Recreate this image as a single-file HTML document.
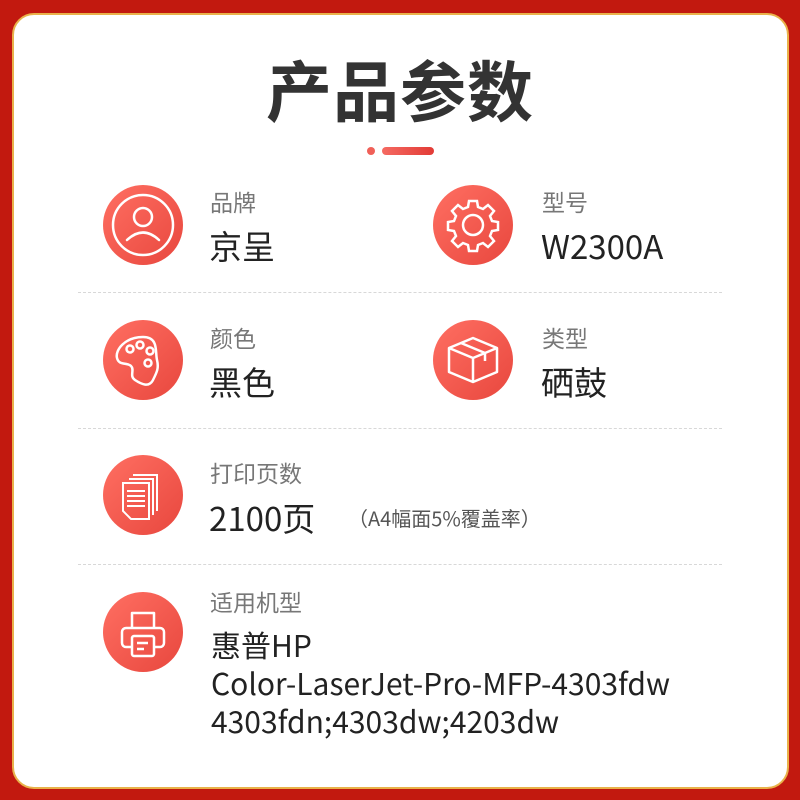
<!DOCTYPE html>
<html><head><meta charset="utf-8"><style>
*{margin:0;padding:0;box-sizing:border-box}
body{width:800px;height:800px;background:#c2190f;position:relative;overflow:hidden;font-family:"Liberation Sans","Noto Sans CJK SC",sans-serif}
.panel{position:absolute;left:12px;top:13px;width:777px;height:776px;background:#fff;border-radius:22px;border:2px solid #e9b24a}
.t{position:absolute;white-space:nowrap}
.title{left:0;width:800px;text-align:center;top:40px;font-size:66px;font-weight:bold;color:#333;font-family:"Noto Sans CJK SC",sans-serif;letter-spacing:1px}
.lab{font-size:23px;color:#777;font-family:"Noto Sans CJK SC",sans-serif}
.val{font-size:33px;color:#222;font-family:"Noto Sans CJK SC",sans-serif}
.c{position:absolute;width:80px;height:80px;border-radius:50%;background:linear-gradient(135deg,#ff6f62,#e8473e)}
.c svg{width:80px;height:80px}
.hr{position:absolute;left:78px;width:644px;border-top:1px dashed #d8d8d8}
</style></head><body>
<div class="panel"></div>
<div class="t title">产品参数</div>
<div style="position:absolute;left:367px;top:147px;width:8px;height:8px;border-radius:4px;background:#f06058"></div>
<div style="position:absolute;left:382px;top:147px;width:52px;height:8px;border-radius:4px;background:linear-gradient(90deg,#f56a62,#e23b36)"></div>

<div class="c" style="left:103px;top:185px"><svg viewBox="0 0 80 80" fill="none" stroke="#fff" stroke-width="2.5" stroke-linecap="round"><circle cx="40" cy="40" r="30"/><circle cx="40" cy="32" r="9"/><path d="M24 55 Q40 40 56 55"/></svg></div>
<div class="t lab" style="left:210px;top:184px">品牌</div>
<div class="t val" style="left:209px;top:221px">京呈</div>

<div class="c" style="left:433px;top:185px"><svg viewBox="0 0 80 80" fill="none" stroke="#fff" stroke-width="2.5"><circle cx="40" cy="40" r="10"/><path d="M36 16h8l1 6 5 2 5-4 6 6-4 5 2 5 6 1v8l-6 1-2 5 4 5-6 6-5-4-5 2-1 6h-8l-1-6-5-2-5 4-6-6 4-5-2-5-6-1v-8l6-1 2-5-4-5 6-6 5 4 5-2z"/></svg></div>
<div class="t lab" style="left:542px;top:184px">型号</div>
<div class="t val" style="left:541px;top:221px;font-size:33px">W2300A</div>

<div class="hr" style="top:292px"></div>

<div class="c" style="left:103px;top:320px"><svg viewBox="0 0 80 80" fill="none" stroke="#fff" stroke-width="2.5"><path d="M40 17C22 17 12 30 14 38c2 8 10 4 14 8s-2 10 4 14 14 8 18 0 6-12 4-20S56 17 40 17z"/><circle cx="27" cy="29" r="3.5"/><circle cx="37" cy="25" r="3.5"/><circle cx="47" cy="31" r="3.5"/><circle cx="45" cy="43" r="3.5"/></svg></div>
<div class="t lab" style="left:210px;top:320px">颜色</div>
<div class="t val" style="left:209px;top:357px">黑色</div>

<div class="c" style="left:433px;top:320px"><svg viewBox="0 0 80 80" fill="none" stroke="#fff" stroke-width="2.5" stroke-linejoin="round"><path d="M40 18l24 10v24L40 62 16 52V28z"/><path d="M16 28l24 10 24-10M40 38v24M28 23l24 10v8"/></svg></div>
<div class="t lab" style="left:542px;top:320px">类型</div>
<div class="t val" style="left:541px;top:357px">硒鼓</div>

<div class="hr" style="top:428px"></div>

<div class="c" style="left:103px;top:455px"><svg viewBox="0 0 80 80" fill="none" stroke="#fff" stroke-width="2"><path d="M30 20h24v36M26 24h24v36"/><path d="M20 28h26v36H28l-8-8z"/><path d="M24 36h18M24 41h18M24 46h18M24 51h18"/></svg></div>
<div class="t lab" style="left:210px;top:455px">打印页数</div>
<div class="t val" style="left:209px;top:493px">2100页</div>
<div class="t" style="left:348px;top:503px;font-size:20px;color:#555;font-family:'Noto Sans CJK SC',sans-serif">（A4幅面5%覆盖率）</div>

<div class="hr" style="top:564px"></div>

<div class="c" style="left:103px;top:592px"><svg viewBox="0 0 80 80" fill="none" stroke="#fff" stroke-width="2.5" stroke-linejoin="round"><path d="M29 36V21h22v15"/><path d="M29 55h-6a4 4 0 0 1-4-4V40a4 4 0 0 1 4-4h34a4 4 0 0 1 4 4v11a4 4 0 0 1-4 4h-6"/><rect x="29" y="44" width="22" height="20" rx="2"/><path d="M34 51h11M34 57h7"/></svg></div>
<div class="t lab" style="left:210px;top:584px">适用机型</div>
<div class="t" style="left:211px;top:625px;font-size:30px;line-height:38px;color:#222;font-family:'Noto Sans CJK SC',sans-serif">惠普HP<br>Color-LaserJet-Pro-MFP-4303fdw<br>4303fdn;4303dw;4203dw</div>
</body></html>
